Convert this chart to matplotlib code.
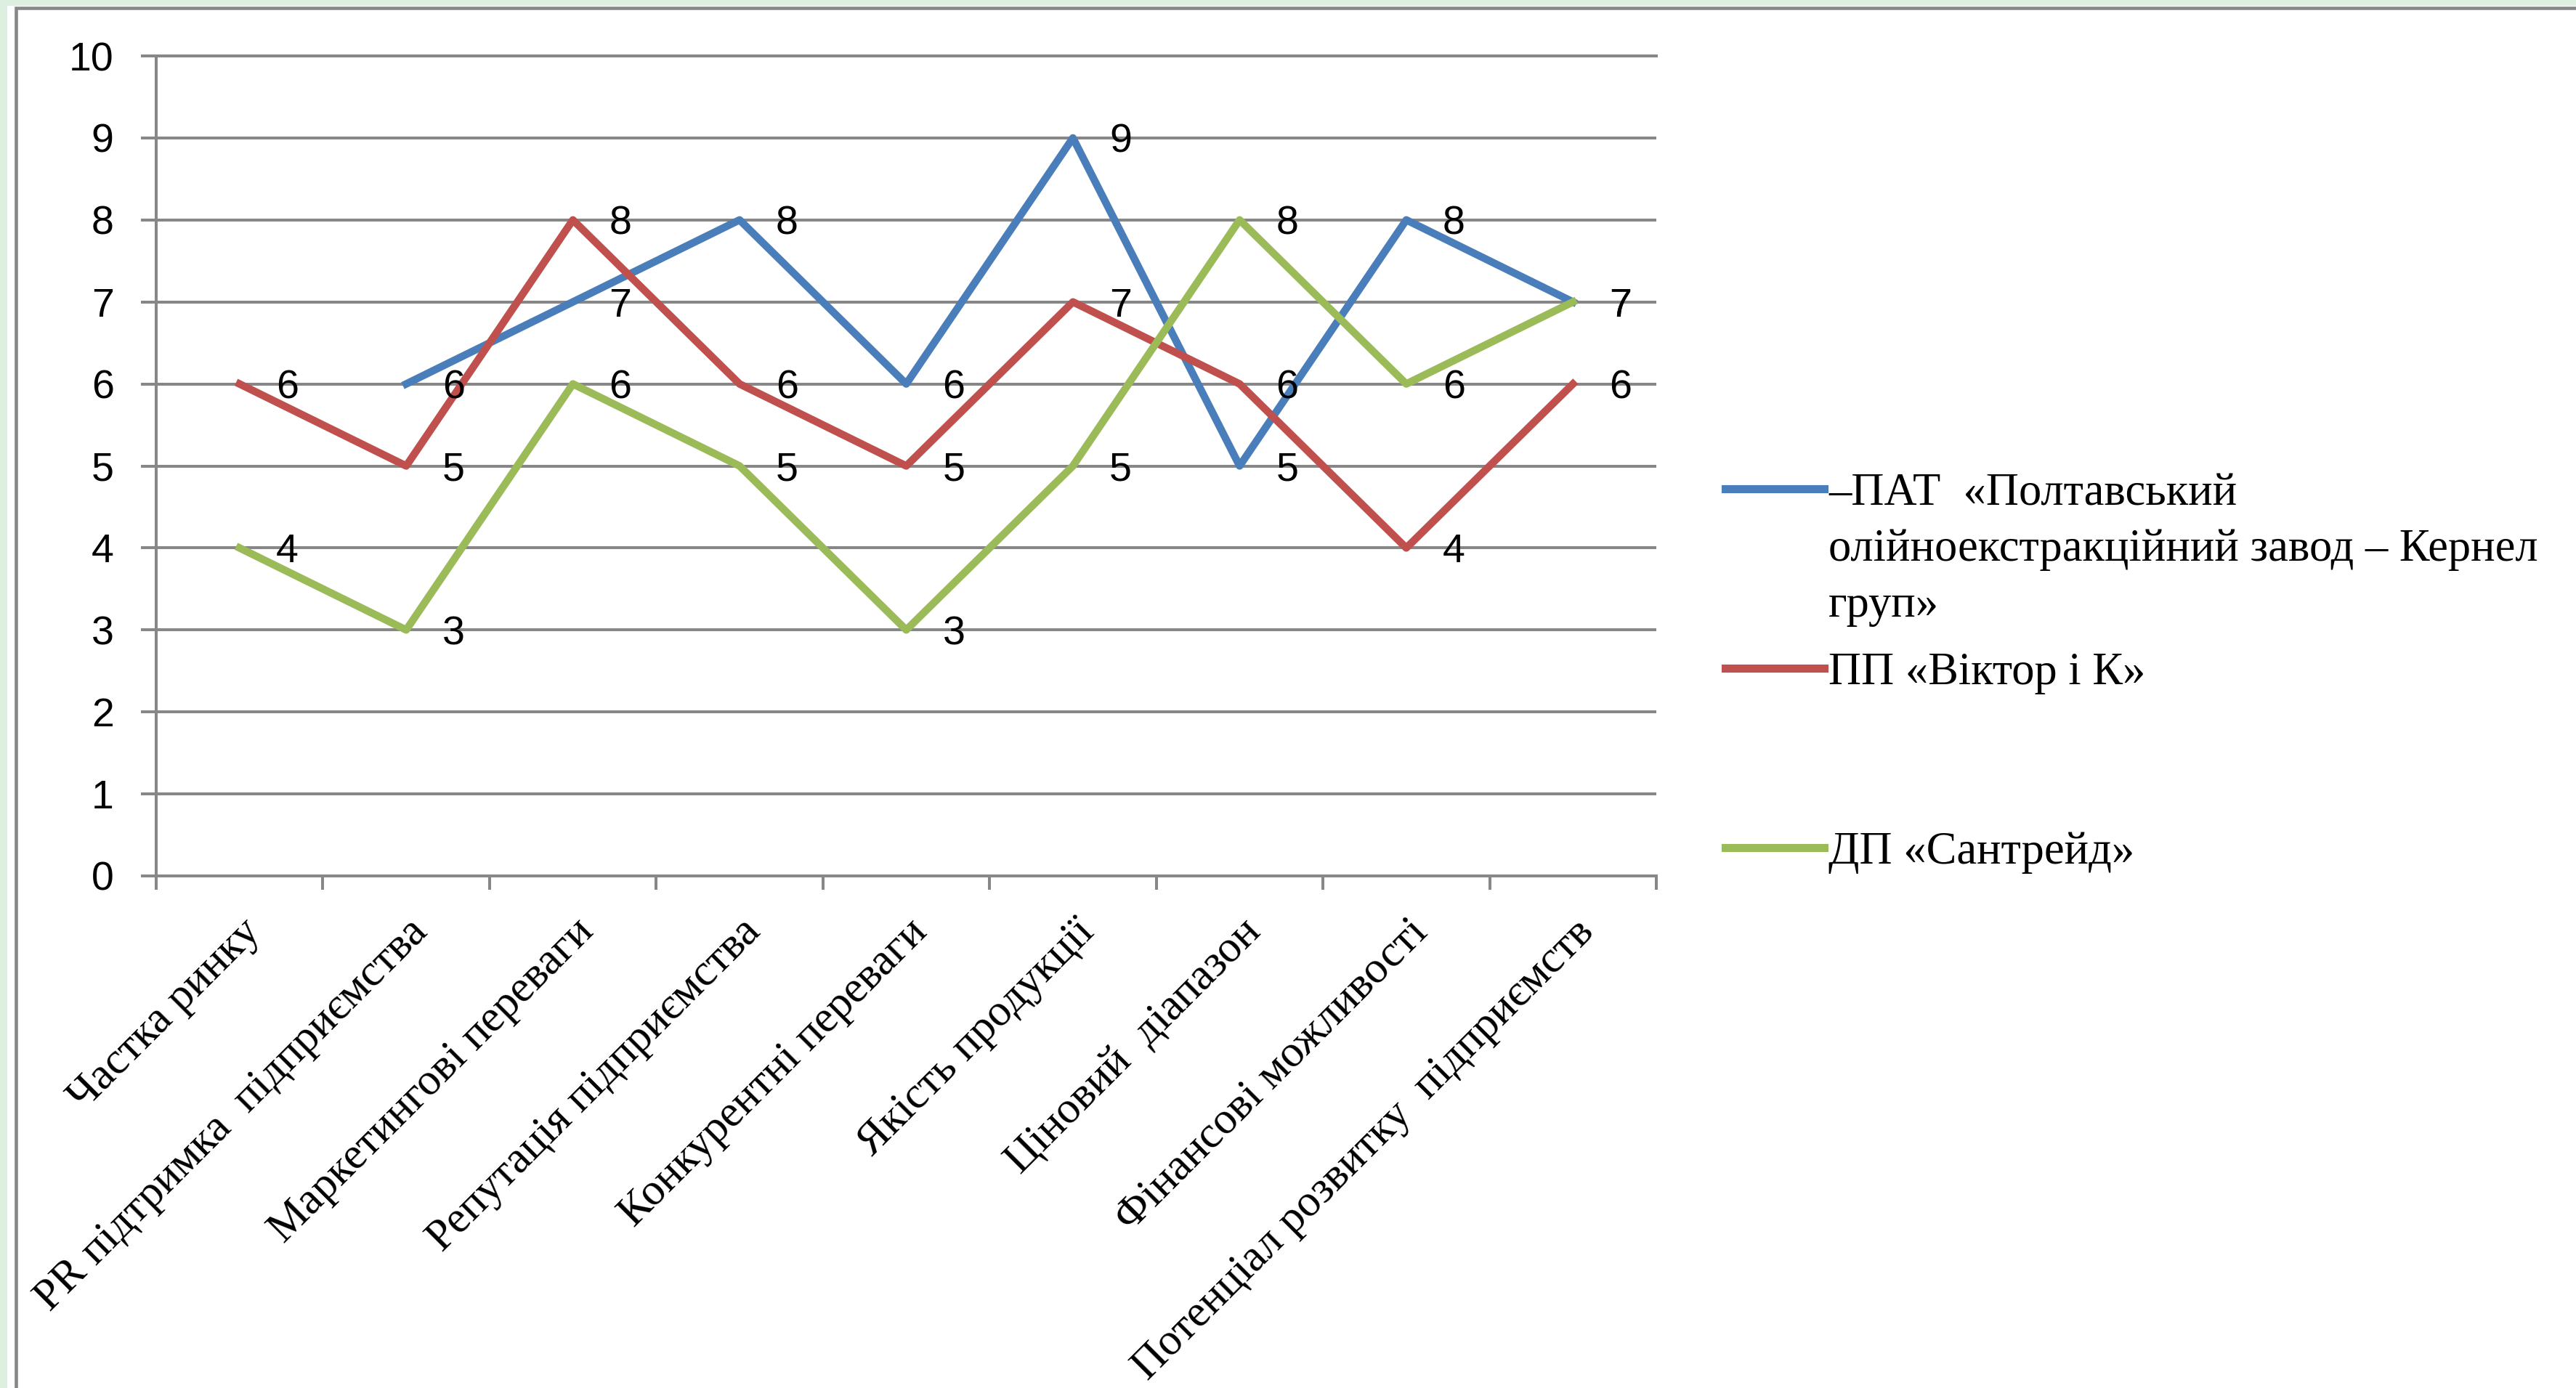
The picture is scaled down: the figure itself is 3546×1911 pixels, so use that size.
import numpy as np
import matplotlib
matplotlib.use('Agg')
from matplotlib import pyplot as plt
from matplotlib.lines import Line2D
from matplotlib.patches import Rectangle
from matplotlib.transforms import ScaledTranslation

# Data
categories = ['Частка ринку', 'PR підтримка  підприємства', 'Маркетингові переваги',
              'Репутація підприємства', 'Конкурентні переваги', 'Якість продукції',
              'Ціновий  діапазон', 'Фінансові можливості', 'Потенціал розвитку  підприємств']
pat_kernel = [np.nan, 6, 7, 8, 6, 9, 5, 8, 7]
pp_viktor = [6, 5, 8, 6, 5, 7, 6, 4, 6]
dp_santreid = [4, 3, 6, 5, 3, 5, 8, 6, 7]
series_names = ['–ПАТ  «Полтавський\nолійноекстракційний завод – Кернел\nгруп»',
                'ПП «Віктор і К»', 'ДП «Сантрейд»']
series_colors = ['#4a7ebb', '#c0504d', '#9bbb59']
y_ticks = list(range(0, 11))

W, H, DPI = 3546, 1911, 100
GRAY = '#878787'
plt.rcParams['font.family'] = ['Liberation Serif', 'DejaVu Serif']

def fx(px):
    return px / W

def fy(py):
    return 1 - py / H

fig = plt.figure(figsize=(W / DPI, H / DPI), dpi=DPI, facecolor='white')

# pale green page strip and grey chart frame
fig.patches.append(Rectangle((0, 0), 1, 1, transform=fig.transFigure,
                             facecolor='#dcefe0', edgecolor='none', zorder=-3))
fig.patches.append(Rectangle((fx(10), 0), 1, fy(8), transform=fig.transFigure,
                             facecolor='white', edgecolor='none', zorder=-2))
fig.patches.append(Rectangle((fx(21.5), fy(3000)), 1.2, fy(11) - fy(3000),
                             transform=fig.transFigure, facecolor='none',
                             edgecolor=GRAY, linewidth=3.3, zorder=-1))

ax = fig.add_axes([fx(215), fy(1206), fx(2280) - fx(215), fy(77) - fy(1206)])
ax.set_facecolor('none')

x = np.arange(len(categories))
all_series = [pat_kernel, pp_viktor, dp_santreid]
lines = []
for vals, col in zip(all_series, series_colors):
    ln, = ax.plot(x, vals, color=col, linewidth=7.5, zorder=3, clip_on=False)
    lines.append(ln)
    for xi, v in zip(x, vals):
        if np.isnan(v):
            continue
        ax.annotate('%d' % v, (xi, v), xytext=(36, 0), textcoords='offset points',
                    ha='left', va='center_baseline', fontsize=40,
                    family='Liberation Sans', zorder=4, annotation_clip=False)

ax.set_xlim(-0.5, len(categories) - 0.5)
ax.set_ylim(0, 10)
ax.set_yticks(y_ticks)
ax.set_yticklabels([str(t) for t in y_ticks], family='Liberation Sans', fontsize=40)
ax.yaxis.grid(True, color=GRAY, linewidth=2.9, zorder=1)
ax.set_axisbelow(True)

ax.set_xticks(np.arange(-0.5, len(categories), 1.0))
ax.set_xticklabels([])
ax.set_xticks(x, categories, minor=True, rotation=45, ha='right',
              rotation_mode='anchor', va='center_baseline', fontsize=44)
ax.tick_params(axis='x', which='major', length=14, width=2.9, color=GRAY, direction='out')
ax.tick_params(axis='x', which='minor', length=0, pad=46)
ax.tick_params(axis='y', length=15, width=2.9, color=GRAY, pad=27)

for lbl in ax.get_xticklabels(minor=True):
    lbl.set_transform(lbl.get_transform() + ScaledTranslation(0.16, 0, fig.dpi_scale_trans))

for side in ['left', 'bottom', 'top']:
    ax.spines[side].set_color(GRAY)
    ax.spines[side].set_linewidth(2.9)
ax.spines['right'].set_visible(False)

# legend drawn by hand to follow the Excel layout
handle_y = [673, 920, 1167]
line_step = 77
for ln, name, hy in zip(lines, series_names, handle_y):
    fig.add_artist(Line2D([fx(2375), fx(2511)], [fy(hy), fy(hy)], transform=fig.transFigure,
                          color=ln.get_color(), linewidth=8))
    for k, part in enumerate(name.split('\n')):
        fig.text(fx(2517), fy(hy + k * line_step), part, ha='left',
                 va='center_baseline', fontsize=45)

fig.savefig('out.png', dpi=DPI, facecolor='white')
